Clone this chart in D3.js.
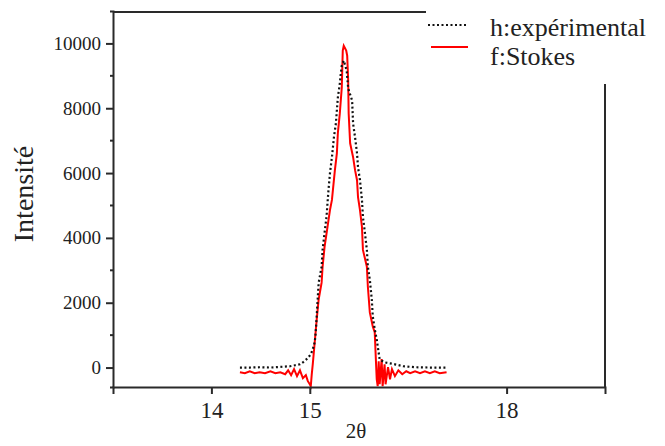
<!DOCTYPE html>
<html><head><meta charset="utf-8">
<script src="https://cdn.jsdelivr.net/npm/d3@7"></script>
<style>
html,body{margin:0;padding:0;background:#fff;}
text{font-family:"Liberation Serif","Times New Roman",serif;fill:#222;}
</style></head>
<body>
<svg id="chart" width="665" height="446"></svg>
<script>
// ---- data ----
const expTheta = [14.29,14.39,14.49,14.60,14.70,14.80,14.85,14.90,14.93,14.98,15.01,15.03,15.05,15.06,15.07,15.08,15.09,15.12,15.13,15.15,15.17,15.18,15.19,15.205,15.225,15.245,15.265,15.275,15.285,15.305,15.315,15.325,15.345,15.375,15.39,15.43,15.44,15.46,15.48,15.49,15.51,15.53,15.54,15.56,15.58,15.59,15.61,15.63,15.64,15.66,15.68,15.71,15.76,15.815,15.865,15.95,16.07,16.22,16.39];
const expIntensity = [0,0,10,0,20,40,70,100,160,290,410,560,780,1080,1580,2100,2620,3110,3630,4160,4650,5080,5480,6000,6490,7100,7530,7930,8330,8760,9070,9320,9470,9160,8610,8240,7530,7100,6610,6180,5780,5170,4650,4160,3630,3110,2710,2100,1580,1180,870,250,160,130,100,40,10,0,0];
const stokesTheta = [14.29,14.34,14.39,14.44,14.49,14.545,14.60,14.65,14.70,14.75,14.78,14.81,14.84,14.87,14.90,14.93,14.96,14.98,15.00,15.01,15.02,15.03,15.05,15.07,15.09,15.12,15.13,15.15,15.18,15.205,15.225,15.235,15.255,15.275,15.285,15.305,15.325,15.335,15.345,15.37,15.38,15.39,15.395,15.41,15.44,15.46,15.48,15.49,15.51,15.53,15.54,15.58,15.59,15.61,15.64,15.66,15.67,15.68,15.69,15.70,15.71,15.73,15.74,15.76,15.77,15.795,15.815,15.835,15.865,15.90,15.94,15.98,16.02,16.07,16.12,16.17,16.22,16.27,16.32,16.39];
const stokesIntensity = [-145,-175,-115,-175,-145,-175,-115,-175,-145,-205,-85,-235,-50,-265,-85,-330,-235,-420,-515,-575,-205,100,780,1480,2100,2620,3110,3720,4340,4860,5170,5480,6090,6610,7230,7840,8640,9780,9930,9780,9620,8860,7840,6920,6490,6090,5780,5260,4860,4340,3630,3110,2500,1700,1270,1080,350,-360,-575,190,-515,260,-575,100,-515,10,-360,-50,-265,-85,-205,-115,-175,-115,-175,-115,-175,-115,-175,-145];
const yTickValues = [0,2000,4000,6000,8000,10000];
const yMinorValues = [1000,3000,5000,7000,9000];
const xTickValues = [14,15,17];
const xTickLabels = ["14","15","18"];
const legendLabels = ["h:expérimental","f:Stokes"];
const xLabel = "2θ", yLabel = "Intensité";

// ---- layout ----
const svg = d3.select("#chart");
const L = 113, R = 605, T = 11, B = 387;
const x = d3.scaleLinear().domain([13,18]).range([L,R]);
const y = d3.scaleLinear().domain([-600,11000]).range([B,T]);
const axisColor = "#2a2a2a";

// frame (top and right)
svg.append("line").attr("x1",L).attr("x2",R).attr("y1",12).attr("y2",12)
  .attr("stroke",axisColor).attr("stroke-width",2);
svg.append("line").attr("x1",R).attr("x2",R).attr("y1",12).attr("y2",B)
  .attr("stroke",axisColor).attr("stroke-width",2);

// lines
const line = d3.line().x(d=>x(d[0])).y(d=>y(d[1]));
const expData = expTheta.map((t,i)=>[t,expIntensity[i]]);
const stokesData = stokesTheta.map((t,i)=>[t,stokesIntensity[i]]);

svg.append("path").datum(stokesData).attr("d",line)
  .attr("fill","none").attr("stroke","#ff0000").attr("stroke-width",2);
svg.append("path").datum(expData).attr("d",line)
  .attr("fill","none").attr("stroke","#111").attr("stroke-width",2.2)
  .attr("stroke-dasharray","2,2.5");

// axes
const xAxis = d3.axisBottom(x).tickValues(xTickValues)
  .tickFormat((d,i)=>xTickLabels[i]).tickSize(7).tickSizeOuter(7).tickPadding(8);
const gx = svg.append("g").attr("transform",`translate(0,${B})`).call(xAxis);
gx.selectAll("path,line").attr("stroke",axisColor).attr("stroke-width",2);
gx.selectAll("text").attr("font-size",23).style("font-family","Liberation Serif").attr("fill","#222");

const yAxis = d3.axisLeft(y).tickValues(yTickValues).tickSize(7).tickSizeOuter(3).tickPadding(5)
  .tickFormat(d3.format("d"));
const gy = svg.append("g").attr("transform",`translate(${L},0)`).call(yAxis);
gy.selectAll("path,line").attr("stroke",axisColor).attr("stroke-width",2);
gy.selectAll("text").attr("font-size",19).style("font-family","Liberation Serif").attr("fill","#222");
svg.append("g").selectAll("line").data(yMinorValues).join("line")
  .attr("x1",L-3).attr("x2",L).attr("y1",d=>y(d)).attr("y2",d=>y(d))
  .attr("stroke",axisColor).attr("stroke-width",2);

// axis titles
svg.append("text").attr("x",356).attr("y",438).attr("text-anchor","middle")
  .attr("font-size",21).text(xLabel);
svg.append("text").attr("transform","translate(33,194) rotate(-90)")
  .attr("text-anchor","middle").attr("font-size",28).text(yLabel);

// legend (covers the frame corner)
svg.append("rect").attr("x",426).attr("y",0).attr("width",239).attr("height",84).attr("fill","#fff");
svg.append("line").attr("x1",428).attr("x2",467).attr("y1",25).attr("y2",25)
  .attr("stroke","#111").attr("stroke-width",2.2).attr("stroke-dasharray","2,2.5");
svg.append("line").attr("x1",431).attr("x2",468).attr("y1",47).attr("y2",47)
  .attr("stroke","#ff0000").attr("stroke-width",2);
svg.append("text").attr("x",490).attr("y",36).attr("font-size",26).text(legendLabels[0]);
svg.append("text").attr("x",490).attr("y",65).attr("font-size",26).text(legendLabels[1]);
</script>
</body></html>
